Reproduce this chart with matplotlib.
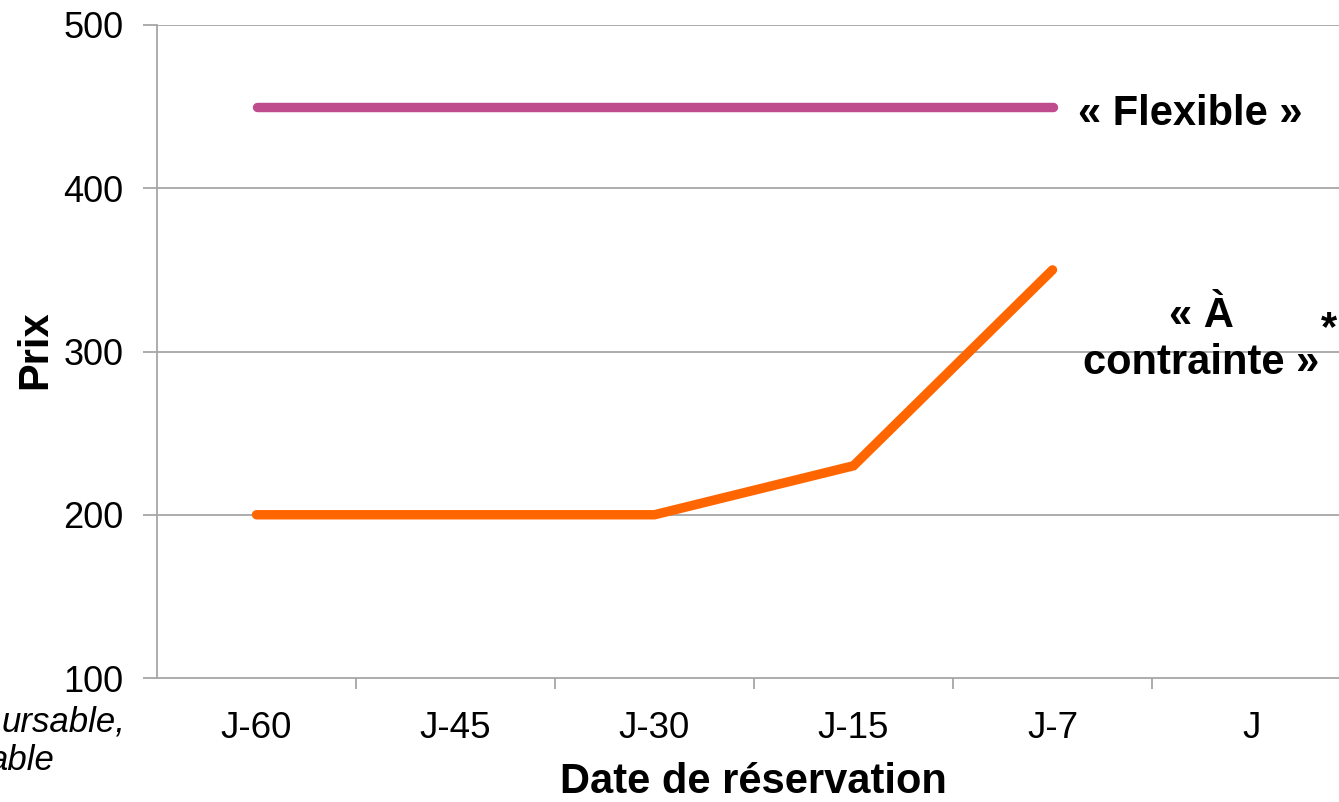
import matplotlib
matplotlib.use("Agg")
import matplotlib.pyplot as plt

categories = ["J-60", "J-45", "J-30", "J-15", "J-7", "J"]
flexible = [450, 450, 450, 450, 450]
contrainte = [200, 200, 200, 230, 350]
yticks = [100, 200, 300, 400, 500]

plt.rcParams['font.family'] = ['Liberation Sans', 'DejaVu Sans']

W, H = 1339, 802
fig = plt.figure(figsize=(W / 100, H / 100), dpi=100)
ax = fig.add_axes([157 / W, 1 - 678 / H, 1194 / W, (678 - 25) / H])

grid_c = "#A6A6A6"
for y in yticks[1:]:
    ax.axhline(y, color=grid_c, lw=1.3, zorder=1)

x_f = list(range(len(flexible)))
x_c = list(range(len(contrainte)))
ax.plot(x_f, flexible, color="#BF4C8C", lw=6.8, solid_capstyle="round", zorder=3)
ax.plot(x_c, contrainte, color="#FF6600", lw=6.8, solid_capstyle="round",
        solid_joinstyle="miter", zorder=3)

ax.set_xlim(-0.5, len(categories) - 0.5)
ax.set_ylim(100, 500)
ax.set_yticks(yticks)
ax.set_yticklabels([str(v) for v in yticks], fontsize=26)
ax.set_xticks(range(len(categories)))
ax.set_xticklabels(categories, fontsize=26.5)
ax.tick_params(axis="x", length=0, pad=24)
ax.set_xticks([i + 0.5 for i in range(len(categories) - 1)], minor=True)
ax.tick_params(axis="x", which="minor", length=8, width=1.3, color=grid_c)
ax.tick_params(axis="y", length=10, width=1.3, color=grid_c, pad=14)

for s in ["top", "right"]:
    ax.spines[s].set_visible(False)
for s in ["left", "bottom"]:
    ax.spines[s].set_color(grid_c)
    ax.spines[s].set_linewidth(1.3)

# axis titles
fig.text(753 / W, 1 - 793 / H, "Date de réservation", fontsize=30, fontweight="bold",
         ha="center", va="baseline")
fig.text(46 / W, 1 - 350 / H, "Prix", fontsize=30, fontweight="bold",
         rotation=90, ha="center", va="baseline", rotation_mode="anchor")

# series labels
fig.text(1078 / W, 1 - 125 / H, "« Flexible »", fontsize=30, fontweight="bold",
         ha="left", va="baseline")
fig.text(1201 / W, 1 - 327 / H, "« À", fontsize=30, fontweight="bold",
         ha="center", va="baseline")
fig.text(1201 / W, 1 - 374 / H, "contrainte »", fontsize=30, fontweight="bold",
         ha="center", va="baseline")
fig.text(1321 / W, 1 - 340 / H, "*", fontsize=30, fontweight="bold",
         ha="left", va="baseline")

# footnote (cut by the figure edge in the original)
fig.text(125 / W, 1 - 731 / H, "ursable,", fontsize=25, style="italic",
         ha="right", va="baseline")
fig.text(54 / W, 1 - 770 / H, "able", fontsize=25, style="italic",
         ha="right", va="baseline")

fig.savefig("out.png", dpi=100)
